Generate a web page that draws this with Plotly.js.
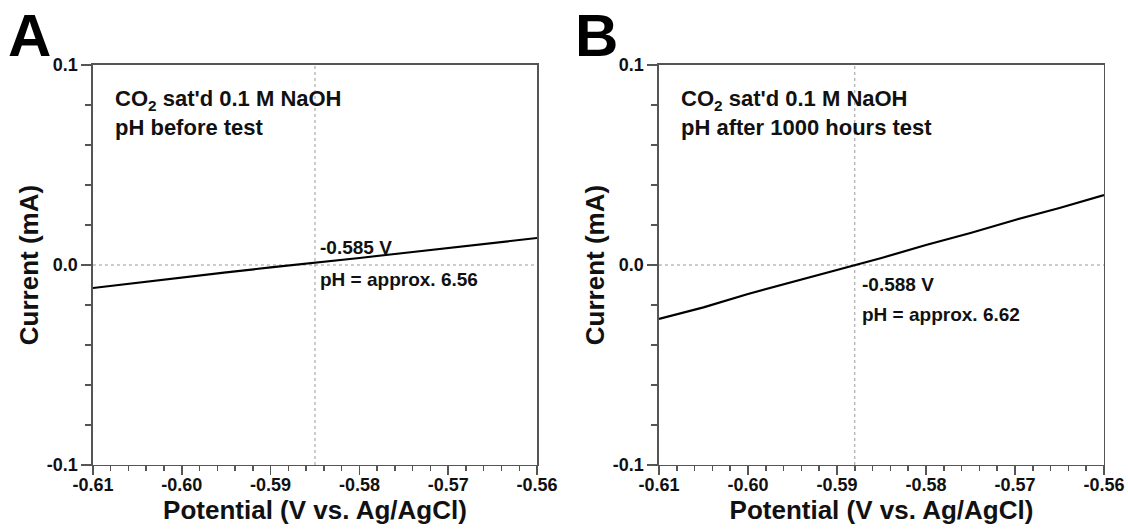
<!DOCTYPE html>
<html>
<head>
<meta charset="utf-8">
<script src="https://cdn.plot.ly/plotly-3.0.1.min.js"></script>
<style>html,body{margin:0;padding:0;background:#fff;}#chart{width:1128px;height:531px;}</style>
</head>
<body>
<div id="chart"></div>
<script>
// Panel A: before test
const potentialA = [-0.61, -0.605, -0.60, -0.595, -0.59, -0.585, -0.58, -0.575, -0.57, -0.565, -0.56];
const currentA   = [-0.0115, -0.0088, -0.0062, -0.0037, -0.0012, 0.0010, 0.0035, 0.0060, 0.0085, 0.0110, 0.0135];
// Panel B: after 1000 hours test
const potentialB = [-0.61, -0.605, -0.60, -0.595, -0.59, -0.585, -0.58, -0.575, -0.57, -0.565, -0.56];
const currentB   = [-0.0270, -0.0212, -0.0145, -0.0085, -0.0025, 0.0035, 0.0100, 0.0160, 0.0225, 0.0285, 0.0350];

const zeroCrossV = [-0.585, -0.588];
const noteV      = ["-0.585 V", "-0.588 V"];
const notePH     = ["pH = approx. 6.56", "pH = approx. 6.62"];
const panelNote  = ["CO<sub>2</sub> sat'd 0.1 M NaOH<br>pH before test", "CO<sub>2</sub> sat'd 0.1 M NaOH<br>pH after 1000 hours test"];
const panelLetters = ["A", "B"];

const xTickVals = [-0.61, -0.60, -0.59, -0.58, -0.57, -0.56];
const xTickText = ["-0.61", "-0.60", "-0.59", "-0.58", "-0.57", "-0.56"];
const yTickVals = [-0.1, 0.0, 0.1];
const yTickText = ["-0.1", "0.0", "0.1"];

const FONT = "Liberation Sans, Arial, sans-serif";
const axisColor = "#555";
const bold = t => "<b>" + t + "</b>";
const yDomain = [0.1243, 0.8776];
const tickFont = {family: FONT, size: 18, color: "#111"};

function xAxis(domain, anchor) {
  return {
    domain: domain, anchor: anchor, range: [-0.61, -0.56], type: "linear",
    tickmode: "array", tickvals: xTickVals, ticktext: xTickText.map(t => bold(t)),
    ticks: "outside", ticklen: 9, tickwidth: 1.5, tickcolor: axisColor, ticklabelstandoff: -6,
    minor: {tick0: -0.61, dtick: 0.002, ticks: "outside", ticklen: 5, tickwidth: 1.5, tickcolor: axisColor, showgrid: false},
    showline: true, linecolor: axisColor, linewidth: 1.5, mirror: true,
    showgrid: false, zeroline: false,
    tickfont: tickFont,
    title: {text: bold("Potential (V vs. Ag/AgCl)"), font: {family: FONT, size: 26, color: "#111"}, standoff: 4},
    fixedrange: true
  };
}
function yAxis(anchor) {
  return {
    domain: yDomain, anchor: anchor, range: [-0.1, 0.1], type: "linear",
    tickmode: "array", tickvals: yTickVals, ticktext: yTickText.map(t => bold(t)),
    ticks: "outside", ticklen: 10, tickwidth: 1.5, tickcolor: axisColor,
    minor: {tick0: 0, dtick: 0.02, ticks: "outside", ticklen: 6, tickwidth: 1.5, tickcolor: axisColor, showgrid: false},
    showline: true, linecolor: axisColor, linewidth: 1.5, mirror: true,
    showgrid: false, zeroline: false,
    tickfont: tickFont,
    title: {text: bold("Current (mA)"), font: {family: FONT, size: 26, color: "#111"}, standoff: 0},
    fixedrange: true
  };
}

const traces = [
  {x: potentialA, y: currentA, xaxis: "x", yaxis: "y", mode: "lines", line: {color: "#000", width: 2.2}, showlegend: false, hoverinfo: "skip"},
  {x: potentialB, y: currentB, xaxis: "x2", yaxis: "y2", mode: "lines", line: {color: "#000", width: 2.2}, showlegend: false, hoverinfo: "skip"}
];

const dashStyle = {color: "#999", width: 1, dash: "3px,3px"};
const shapes = [];
const annotations = [];
["", "2"].forEach((s, i) => {
  const xr = "x" + s, yr = "y" + s;
  shapes.push({type: "line", xref: xr, yref: yr + " domain", x0: zeroCrossV[i], x1: zeroCrossV[i], y0: 0, y1: 1, line: dashStyle, layer: "below"});
  shapes.push({type: "line", xref: xr + " domain", yref: yr, x0: 0, x1: 1, y0: 0, y1: 0, line: dashStyle, layer: "below"});
  annotations.push({xref: xr + " domain", yref: yr + " domain", x: 0.046, y: 0.88, xanchor: "left", yanchor: "middle", align: "left",
    text: bold(panelNote[i]), showarrow: false, font: {family: FONT, size: 22, color: "#111"}});
});
const noteFont = {family: FONT, size: 19, color: "#111"};
annotations.push({xref: "x", yref: "y", x: zeroCrossV[0], y: 0.0085, xanchor: "left", yanchor: "middle", xshift: 3, text: bold(noteV[0]), showarrow: false, font: noteFont});
annotations.push({xref: "x", yref: "y", x: zeroCrossV[0], y: -0.0075, xanchor: "left", yanchor: "middle", xshift: 3, text: bold(notePH[0]), showarrow: false, font: noteFont});
annotations.push({xref: "x2", yref: "y2", x: zeroCrossV[1], y: -0.010, xanchor: "left", yanchor: "middle", xshift: 5, text: bold(noteV[1]), showarrow: false, font: noteFont});
annotations.push({xref: "x2", yref: "y2", x: zeroCrossV[1], y: -0.025, xanchor: "left", yanchor: "middle", xshift: 5, text: bold(notePH[1]), showarrow: false, font: noteFont});
annotations.push({xref: "paper", yref: "paper", x: 6 / 1128, y: 1, xanchor: "left", yanchor: "top", text: bold(panelLetters[0]), showarrow: false, font: {family: FONT, size: 60, color: "#000"}});
annotations.push({xref: "paper", yref: "paper", x: 573 / 1128, y: 1, xanchor: "left", yanchor: "top", text: bold(panelLetters[1]), showarrow: false, font: {family: FONT, size: 60, color: "#000"}});

const layout = {
  width: 1128, height: 531,
  margin: {l: 0, r: 0, t: 0, b: 0},
  font: {family: FONT, size: 17, color: "#111"},
  paper_bgcolor: "#fff", plot_bgcolor: "#fff",
  xaxis: xAxis([0.0824, 0.4761], "y"),
  yaxis: yAxis("x"),
  xaxis2: xAxis([0.5842, 0.9787], "y2"),
  yaxis2: yAxis("x2"),
  shapes: shapes,
  annotations: annotations,
  showlegend: false
};

Plotly.newPlot("chart", traces, layout, {displayModeBar: false, staticPlot: true});
</script>
</body>
</html>
